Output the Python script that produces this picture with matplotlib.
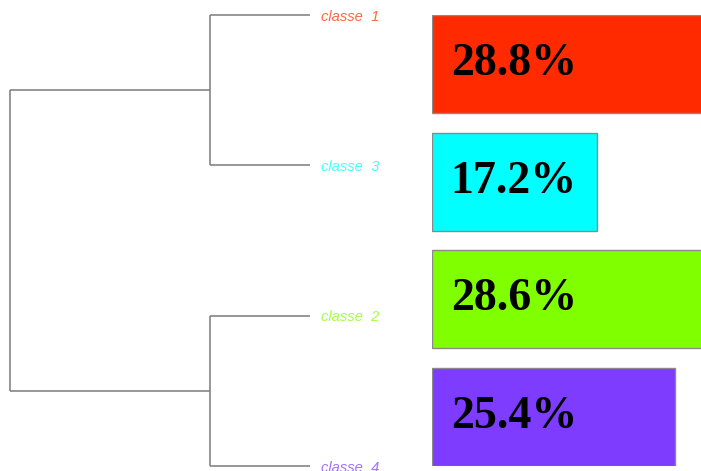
import matplotlib.pyplot as plt

# Leaves of the dendrogram, top to bottom
leaves = ["classe  1", "classe  3", "classe  2", "classe  4"]
leaf_colors = ["#FF2A00", "#00FFFF", "#80FF00", "#7D3CFF"]

# Merges: (first leaf index, second leaf index, height)
merges = [(0, 1, 1.0), (2, 3, 1.0)]
root_height = 3.0

# Class sizes (%) shown as bars, same order as the leaves
pct = [28.8, 17.2, 28.6, 25.4]
bar_colors = ["#FF2A00", "#00FFFF", "#80FF00", "#7D3CFF"]

W, H = 701, 471
fig = plt.figure(figsize=(W / 100, H / 100), dpi=100)
fig.patch.set_facecolor("white")


def px_axes(x0, y0, x1, y1):
    # axes box given in pixel coordinates measured from the top-left corner
    return fig.add_axes([x0 / W, 1 - y1 / H, (x1 - x0) / W, (y1 - y0) / H])


# ----------------- Dendrogram --------------------
ax_d = px_axes(10, 15, 310, 466)
ax_d.set_xlim(root_height, 0)
ax_d.set_ylim(len(leaves) - 1, 0)
ax_d.axis("off")

line_kw = dict(color="#7a7a7a", linewidth=1.1, solid_capstyle="butt", clip_on=False)
mids = []
for a, b, h in merges:
    ax_d.plot([0, h], [a, a], **line_kw)
    ax_d.plot([0, h], [b, b], **line_kw)
    ax_d.plot([h, h], [a, b], **line_kw)
    mids.append(((a + b) / 2, h))

(m1, h1), (m2, h2) = mids
ax_d.plot([h1, root_height], [m1, m1], **line_kw)
ax_d.plot([h2, root_height], [m2, m2], **line_kw)
ax_d.plot([root_height, root_height], [m1, m2], **line_kw)

for i, (name, col) in enumerate(zip(leaves, leaf_colors)):
    ax_d.annotate(name, xy=(0, i), xytext=(8, -1.2), textcoords="offset points",
                  ha="left", va="center", fontsize=10.6, style="italic",
                  family="Liberation Sans", color=col, alpha=0.72,
                  annotation_clip=False)

# ----------------- Bars --------------------
ax_b = px_axes(432, 15, 701, 466)
half = 0.4165
ax_b.set_ylim(len(pct) - 1 + half, -half)
ax_b.set_xlim(0, 269 / 9.58)
ax_b.axis("off")

ax_b.barh(range(len(pct)), pct, height=2 * half, color=bar_colors,
          edgecolor="#8a8a8a", linewidth=1.0)

for i, v in enumerate(pct):
    ax_b.annotate(f"{v}%", xy=(0, i), xytext=(13.5, -8), textcoords="offset points",
                  ha="left", va="baseline", fontsize=33, fontweight="bold",
                  family="Liberation Serif", color="black")

plt.savefig("out.png", dpi=100, facecolor=fig.get_facecolor())
